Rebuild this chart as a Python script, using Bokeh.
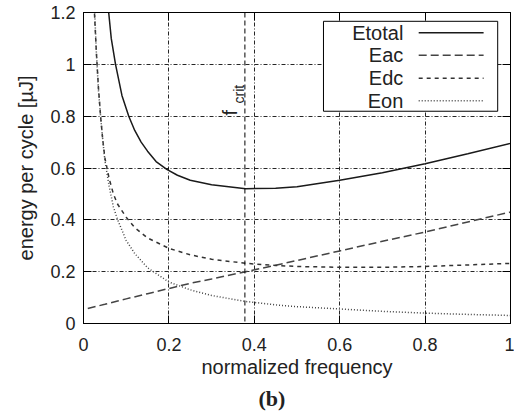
import numpy as np
from bokeh.plotting import figure
from bokeh.models import (Range1d, FixedTicker, LinearAxis, CustomJSTickFormatter,
                          Title, Span)
from bokeh.core.properties import value
from bokeh.embed import file_html
from bokeh.resources import INLINE

# ---------------- data ----------------
freq_total = [0.055, 0.059, 0.065, 0.075, 0.09, 0.106, 0.12, 0.135, 0.15, 0.17,
              0.195, 0.22, 0.25, 0.3, 0.38, 0.45, 0.5, 0.6, 0.7, 0.8, 0.9, 1.0]
e_total = [1.28, 1.2, 1.1, 1.0, 0.88, 0.8, 0.745, 0.70, 0.665, 0.625,
           0.595, 0.572, 0.553, 0.535, 0.52, 0.522, 0.528, 0.553, 0.582,
           0.616, 0.655, 0.695]

freq_ac = [0.01, 0.03, 0.05, 0.08, 0.1, 0.15, 0.2, 0.25, 0.3, 0.38, 0.45,
           0.5, 0.6, 0.7, 0.8, 0.9, 1.0]
e_ac = [0.058, 0.066, 0.074, 0.087, 0.095, 0.115, 0.135, 0.155, 0.172, 0.2,
        0.225, 0.243, 0.28, 0.317, 0.353, 0.392, 0.43]

freq_dc = [0.022, 0.025, 0.03, 0.035, 0.04, 0.045, 0.05, 0.06, 0.07, 0.08, 0.1,
           0.12, 0.15, 0.2, 0.25, 0.3, 0.38, 0.45, 0.5, 0.6, 0.7, 0.8, 0.9, 1.0]
e_dc = [1.38, 1.22, 1.05, 0.91, 0.8, 0.71, 0.64, 0.56, 0.5, 0.46, 0.41,
        0.37, 0.33, 0.29, 0.265, 0.248, 0.232, 0.224, 0.22, 0.217, 0.217,
        0.22, 0.226, 0.232]

freq_on = [0.022, 0.025, 0.03, 0.035, 0.04, 0.045, 0.05, 0.06, 0.07, 0.08, 0.1,
           0.12, 0.15, 0.2, 0.25, 0.3, 0.38, 0.45, 0.5, 0.6, 0.7, 0.8, 0.9, 1.0]
e_on = [1.42, 1.25, 1.05, 0.9, 0.8, 0.71, 0.63, 0.53, 0.45, 0.40, 0.32,
        0.27, 0.215, 0.16, 0.13, 0.108, 0.085, 0.072, 0.065, 0.056, 0.047,
        0.040, 0.035, 0.031]

series_names = ["Etotal", "Eac", "Edc", "Eon"]

f_crit = 0.378

x_ticks = [0, 0.2, 0.4, 0.6, 0.8, 1.0]
x_tick_labels = ["0", "0.2", "0.4", "0.6", "0.8", "1"]
y_ticks = [0, 0.2, 0.4, 0.6, 0.8, 1.0, 1.2]
y_tick_labels = ["0", "0.2", "0.4", "0.6", "0.8", "1", "1.2"]

# ---------------- styles ----------------
FONT = "Liberation Sans"
TXT = "#222222"
styles = [
    dict(line_color="#1a1a1a", line_width=1.5, line_dash="solid"),
    dict(line_color="#444444", line_width=1.5, line_dash="8 4"),
    dict(line_color="#333333", line_width=1.5, line_dash="4 4"),
    dict(line_color="#444444", line_width=1.5, line_dash="1 2"),
]

p = figure(width=514, height=413, output_backend="svg", toolbar_location=None,
           x_range=Range1d(0, 1), y_range=Range1d(0, 1.2),
           min_border_left=83, min_border_right=4, min_border_top=12,
           min_border_bottom=90,
           x_axis_label="normalized frequency",
           y_axis_label="energy per cycle [µJ]")
p.background_fill_color = "white"
p.border_fill_color = "white"
p.outline_line_color = "black"
p.outline_line_width = 1
p.outline_line_alpha = 1

# grid
p.xgrid.ticker = FixedTicker(ticks=x_ticks)
p.ygrid.ticker = FixedTicker(ticks=y_ticks)
for g in (p.xgrid, p.ygrid):
    g.grid_line_color = "black"
    g.grid_line_alpha = 0.85
    g.grid_line_width = 1
    g.grid_line_dash = "4 2 1 2"


def style_axis(ax, ticks, labels, show_labels=True):
    ax.ticker = FixedTicker(ticks=ticks)
    if show_labels:
        ax.formatter = CustomJSTickFormatter(args=dict(labels=labels),
                                             code="return labels[index];")
    else:
        ax.formatter = CustomJSTickFormatter(code="return '';")
        ax.major_label_text_font_size = "0px"
        ax.major_label_standoff = 0
    ax.major_tick_in = 8
    ax.major_tick_out = 0
    ax.minor_tick_in = 0
    ax.minor_tick_out = 0
    ax.axis_line_color = "black"
    ax.major_tick_line_color = "black"
    ax.major_label_text_font = FONT
    ax.major_label_text_color = TXT
    if show_labels:
        ax.major_label_text_font_size = "18px"
    ax.axis_label_text_font = FONT
    ax.axis_label_text_font_size = "20px"
    ax.axis_label_text_font_style = "normal"
    ax.axis_label_text_color = TXT


style_axis(p.xaxis[0], x_ticks, x_tick_labels)
p.xaxis[0].major_label_standoff = 14
p.xaxis[0].axis_label_standoff = 2
style_axis(p.yaxis[0], y_ticks, y_tick_labels)
p.yaxis[0].major_label_standoff = 8
p.yaxis[0].axis_label_standoff = 10

top_ax = LinearAxis()
style_axis(top_ax, x_ticks, x_tick_labels, show_labels=False)
p.add_layout(top_ax, "above")
right_ax = LinearAxis()
style_axis(right_ax, y_ticks, y_tick_labels, show_labels=False)
p.add_layout(right_ax, "right")

# curves
p.line(freq_total, e_total, **styles[0])
p.line(freq_ac, e_ac, **styles[1])
p.line(freq_dc, e_dc, **styles[2])
p.line(freq_on, e_on, **styles[3])

# f_crit marker
p.add_layout(Span(location=f_crit, dimension="height", line_color="black",
                  line_width=1, line_dash="5 3"))
p.text(x=[0.344], y=[0.803], text=["f"], angle=np.pi / 2,
       text_align="left", text_baseline="alphabetic",
       text_font=value(FONT), text_font_size="20px", text_color=TXT)
p.text(x=[0.365], y=[0.849], text=["crit"], angle=np.pi / 2,
       text_align="left", text_baseline="alphabetic",
       text_font=value(FONT), text_font_size="14px", text_color=TXT)

# legend (gnuplot style: label right-aligned, sample on the right)
leg_left, leg_right, leg_top, leg_bottom = 0.562, 0.970, 1.166, 0.819
row_y = [1.1216, 1.0347, 0.9459, 0.8591]
txt_x, s_x0, s_x1 = 0.749, 0.785, 0.937
p.quad(left=[leg_left], right=[leg_right], top=[leg_top], bottom=[leg_bottom],
       fill_color="white", line_color="black", line_width=1)
for name, yy, st in zip(series_names, row_y, styles):
    p.segment(x0=[s_x0], y0=[yy], x1=[s_x1], y1=[yy], **st)
p.text(x=[txt_x] * 4, y=row_y, text=series_names, text_align="right",
       text_baseline="middle", text_font=value(FONT), text_font_size="20px",
       text_color=TXT)

# caption "(b)"
cap = Title(text="(b)", align="left", offset=175, text_font="Liberation Serif",
            text_font_size="22px", text_font_style="bold", text_color=TXT,
            standoff=6)
p.add_layout(cap, "below")

open("out.html", "w").write(file_html(p, INLINE))
